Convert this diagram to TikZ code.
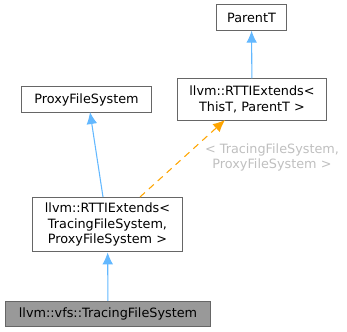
\documentclass[tikz,border=0pt]{standalone}
\usepackage{fontspec}
\setmainfont{DejaVu Sans}
\usetikzlibrary{arrows.meta,positioning}
\definecolor{edgeblue}{HTML}{63B8FF}
\definecolor{edgeorange}{HTML}{FFA500}
\definecolor{boxline}{HTML}{666666}
\tikzstyle{cls}=[rectangle,draw=boxline,fill=white,line width=0.8pt,align=center,
font=\fontsize{9.6}{11.6}\selectfont,inner sep=1pt]
\tikzstyle{hcls}=[cls,fill=black!40]
\tikzstyle{inherit}=[color=edgeblue,line width=0.8pt,-{Latex[length=9pt,width=8pt]}]
\tikzstyle{tmpl}=[color=edgeorange,line width=0.8pt,dash pattern=on 5pt off 4pt,-{Latex[length=9pt,width=8pt]}]

\begin{document}
\begin{tikzpicture}[x=0.75pt,y=-0.75pt]
            \useasboundingbox (0,0) rectangle (347,332);

            % classes
            \node[cls,minimum width=53pt,minimum height=19pt] (parent) at (251.5,17.5) {ParentT};
            \node[cls,minimum width=112pt,minimum height=31pt] (rttiT) at (252,99.5) {llvm::RTTIExtends<\\ ThisT, ParentT >};
            \node[cls,minimum width=98pt,minimum height=19pt] (proxy) at (86.5,99.5) {ProxyFileSystem};
            \node[cls,minimum width=113pt,minimum height=41pt] (rttiP) at (107.5,224.5) {llvm::RTTIExtends<\\ TracingFileSystem,\\ ProxyFileSystem >};
            \node[hcls,minimum width=154pt,minimum height=19pt] (tracing) at (108,314) {llvm::vfs::TracingFileSystem};

            % template arguments
            \node[align=center,text=black!25,font=\fontsize{9.6}{11}\selectfont] (args) at (272,157.5) {< TracingFileSystem,\\ ProxyFileSystem >};

            % edge ends
            \coordinate (pTop) at (103,197);
            \coordinate (pEnd) at (90,112);
            \coordinate (tTop) at (140,197);
            \coordinate (tEnd) at (225,120);

            % inheritance
            \path[inherit] (rttiT) edge (parent);
            \path[inherit] (pTop) edge (pEnd);
            \path[inherit] (tracing) edge (rttiP);
            \path[tmpl] (tTop) edge (tEnd);

\end{tikzpicture}
\end{document}
